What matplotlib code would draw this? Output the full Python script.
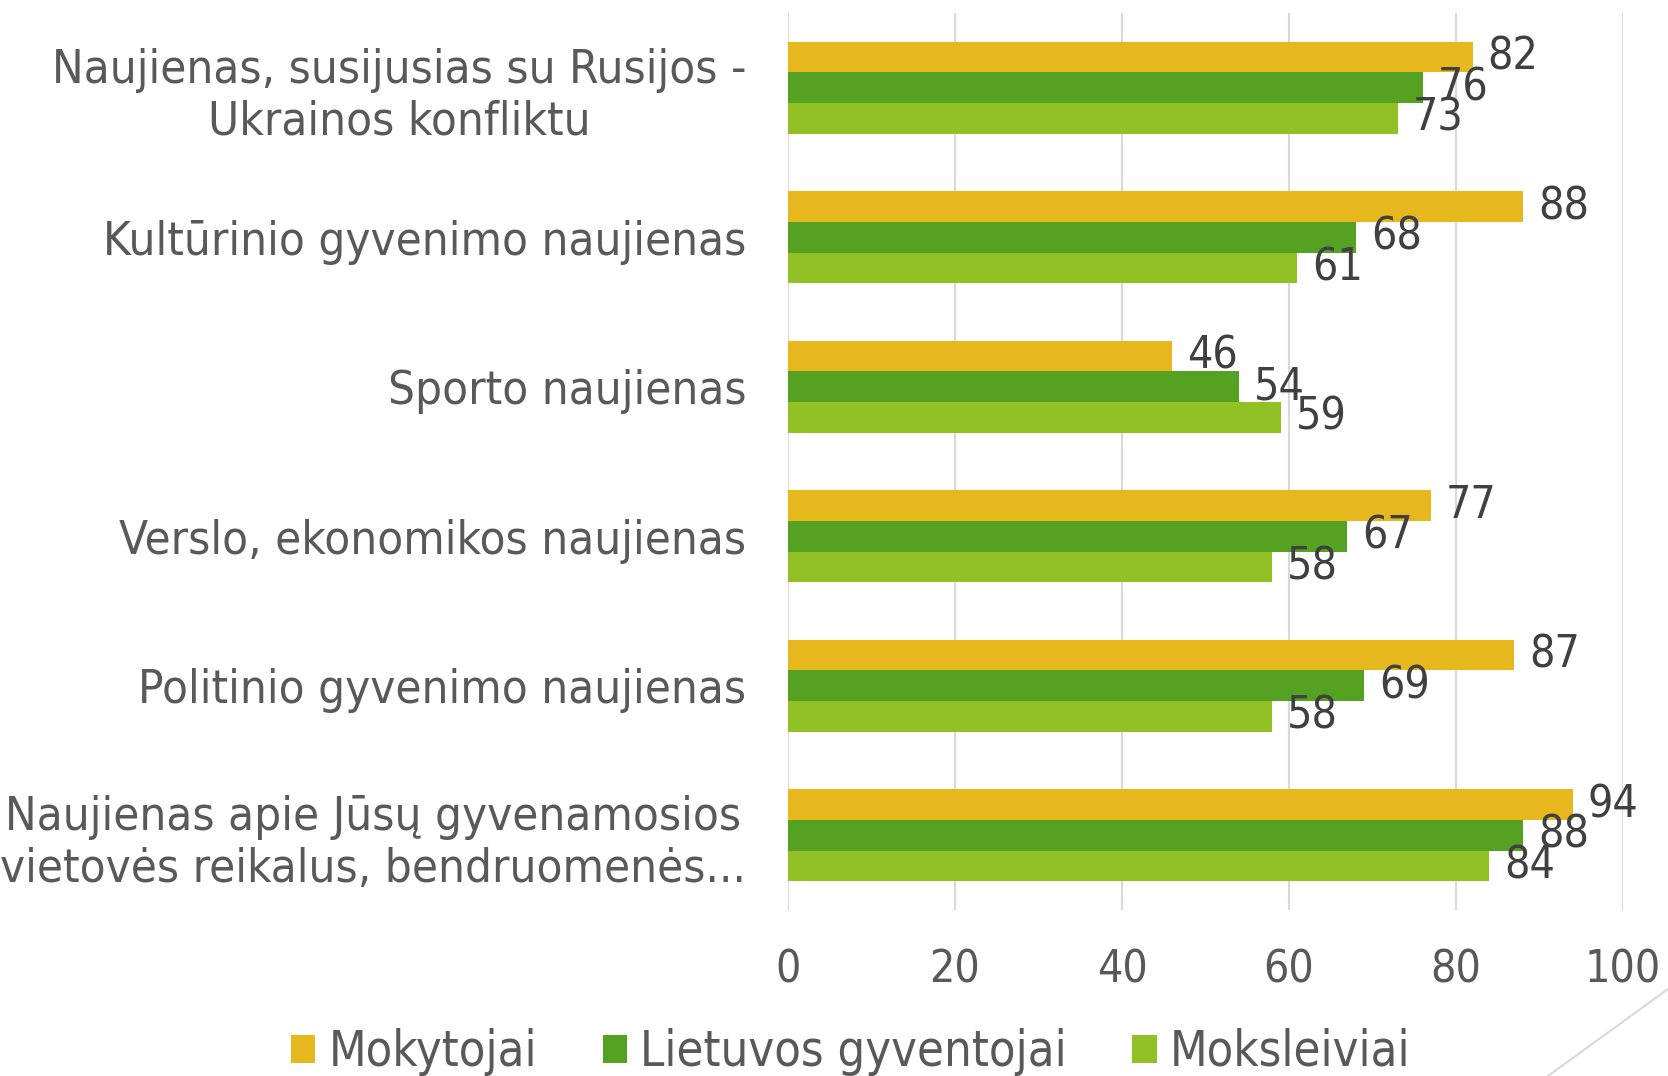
import matplotlib.pyplot as plt
import numpy as np
from matplotlib.lines import Line2D

plt.rcParams['font.family'] = ['DejaVu Sans']
plt.rcParams['font.stretch'] = 'condensed'

categories = [
    "Naujienas, susijusias su Rusijos -\nUkrainos konfliktu",
    "Kultūrinio gyvenimo naujienas",
    "Sporto naujienas",
    "Verslo, ekonomikos naujienas",
    "Politinio gyvenimo naujienas",
    "Naujienas apie Jūsų gyvenamosios\nvietovės reikalus, bendruomenės...",
]
series = ["Mokytojai", "Lietuvos gyventojai", "Moksleiviai"]
mokytojai = [82, 88, 46, 77, 87, 94]
gyventojai = [76, 68, 54, 67, 69, 88]
moksleiviai = [73, 61, 59, 58, 58, 84]
colors = ["#E6B81E", "#55A222", "#92C126"]
text_col = "#595959"

fig = plt.figure(figsize=(16.68, 10.76), dpi=100)
ax = fig.add_axes([788 / 1668, 1 - 910 / 1076, (1623 - 788) / 1668, (910 - 13) / 1076])

y = np.arange(len(categories))
h = 0.205
for i, (vals, name) in enumerate(zip([mokytojai, gyventojai, moksleiviai], series)):
    pos = y + (i - 1) * h
    ax.barh(pos, vals, height=h, color=colors[i], label=name, zorder=3)
    for p, v in zip(pos, vals):
        ax.text(v + 1.8, p, str(v), va='center', ha='left', fontsize=32, color='#404040', zorder=4)

ax.set_xlim(0, 100)
ax.set_ylim(5.5, -0.5)
ax.set_xticks(range(0, 101, 20))
ax.set_yticks(y)
ax.set_yticklabels(categories, fontsize=34, color=text_col, ha='right', multialignment='center')
ax.tick_params(axis='y', length=0, pad=30)
ax.tick_params(axis='x', length=0, labelsize=32, labelcolor=text_col, pad=28)
ax.grid(axis='x', color='#D9D9D9', linewidth=1.5, zorder=0)
for s in ax.spines.values():
    s.set_visible(False)

fig.legend(loc='center', bbox_to_anchor=(0.51, 1 - 1052 / 1076), ncol=3, frameon=False,
           fontsize=35, labelcolor=text_col, handlelength=0.5, handleheight=0.5,
           handletextpad=0.27, columnspacing=1.35)

fig.add_artist(Line2D([1548 / 1668, 1], [0, 87 / 1076], color='#D9D9D9', lw=1.5))

fig.savefig("out.png", dpi=100)
